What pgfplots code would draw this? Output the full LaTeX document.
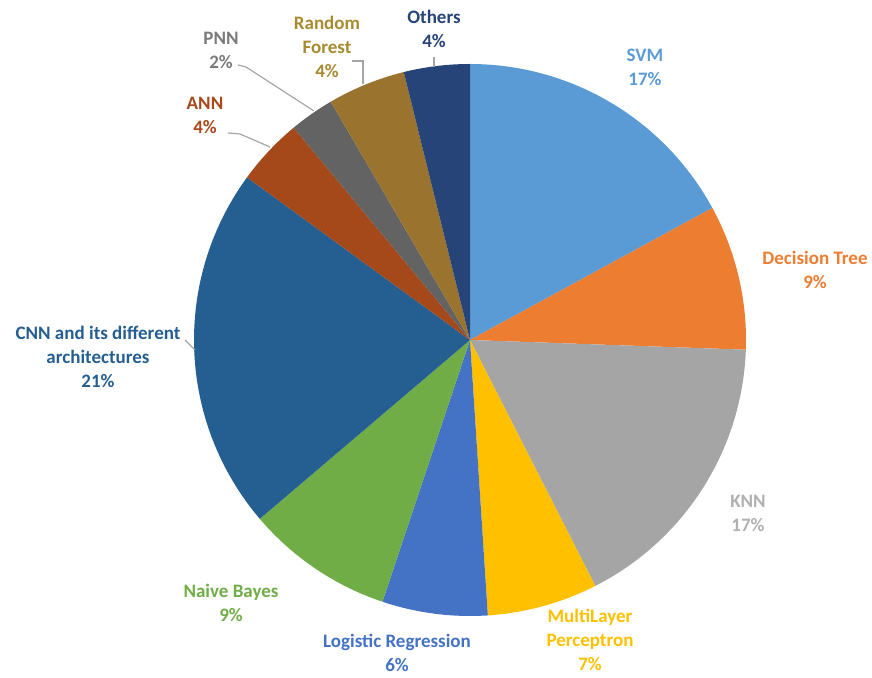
\documentclass[border=0pt]{standalone}
\usepackage{fontspec}
\setmainfont{Carlito}
\usepackage{pgfplots}
\pgfplotsset{compat=1.18}
\usepackage{pgfplotstable}

\definecolor{cSVM}{HTML}{5B9BD5}
\definecolor{cDT}{HTML}{ED7D31}
\definecolor{cKNN}{HTML}{A5A5A5}
\definecolor{cMLP}{HTML}{FFC000}
\definecolor{cLR}{HTML}{4472C4}
\definecolor{cNB}{HTML}{70AD47}
\definecolor{cCNN}{HTML}{255E91}
\definecolor{cANN}{HTML}{A5491A}
\definecolor{cPNN}{HTML}{636363}
\definecolor{cRF}{HTML}{9A742E}
\definecolor{cOTH}{HTML}{264478}
\definecolor{tRF}{HTML}{A88A30}
\definecolor{tKNN}{HTML}{B0B0B0}
\definecolor{tPNN}{HTML}{7A7A7A}
\definecolor{leader}{HTML}{A6A6A6}

% share of each method, clockwise from 12 o'clock
\pgfplotstableread{
name share col
SVM 17.06 cSVM
DecisionTree 8.50 cDT
KNN 16.94 cKNN
MLP 6.47 cMLP
LogReg 6.17 cLR
NaiveBayes 8.64 cNB
CNN 21.25 cCNN
ANN 3.94 cANN
PNN 2.61 cPNN
RandomForest 4.56 cRF
Others 3.86 cOTH
}\piedata

\tikzset{lbl/.style={font=\fontsize{19}{24}\selectfont\bfseries, align=center, inner sep=0pt}}

\begin{document}
\begin{tikzpicture}
\begin{axis}[
    x=1pt, y=1pt,
    xmin=0, xmax=872, ymin=0, ymax=677,
    hide axis, clip=false,
    anchor=origin, at={(0,0)},
  ]
  \addplot[draw=none] coordinates {(0,0) (872,677)};

  \pgfplotstablegetrowsof{\piedata}
  \pgfmathtruncatemacro\nrows{\pgfplotsretval-1}
  \def\cum{0}
  \pgfplotsforeachungrouped \i in {0,...,\nrows}{
    \pgfplotstablegetelem{\i}{share}\of\piedata \let\v\pgfplotsretval
    \pgfplotstablegetelem{\i}{col}\of\piedata \let\c\pgfplotsretval
    \pgfmathsetmacro\aone{90-3.6*\cum}
    \pgfmathsetmacro\atwo{\aone-3.6*\v}
    \edef\temp{\noexpand\fill[\c] (axis cs:470,337) -- ++(\aone:276pt)
      arc[start angle=\aone, end angle=\atwo, radius=276pt] -- cycle;}
    \temp
    \pgfmathsetmacro\cum{\cum+\v}
  }

  % leader lines
  \draw[leader, line width=1.2pt] (axis cs:185,337) -- (axis cs:195,327);
  \draw[leader, line width=1.2pt] (axis cs:228,544) -- (axis cs:240,543) -- (axis cs:270,530);
  \draw[leader, line width=1.2pt] (axis cs:238,612) -- (axis cs:246,610) -- (axis cs:314,566);
  \draw[leader, line width=1.2pt] (axis cs:352,616) -- (axis cs:363,616) -- (axis cs:363,593);
  \draw[leader, line width=1.2pt] (axis cs:434,620) -- (axis cs:434,610);

  % labels
  \node[lbl, text=cSVM] at (axis cs:645,610) {SVM\\17\%};
  \node[lbl, text=cDT]  at (axis cs:815,407) {Decision Tree\\9\%};
  \node[lbl, text=tKNN] at (axis cs:748,164) {KNN\\17\%};
  \node[lbl, text=cMLP] at (axis cs:590,37) {MultiLayer\\Perceptron\\7\%};
  \node[lbl, text=cLR]  at (axis cs:397,24) {Logistic Regression\\6\%};
  \node[lbl, text=cNB]  at (axis cs:231,74) {Naive Bayes\\9\%};
  \node[lbl, text=cCNN] at (axis cs:98,320) {CNN and its different\\architectures\\21\%};
  \node[lbl, text=cANN] at (axis cs:205,562) {ANN\\4\%};
  \node[lbl, text=tPNN] at (axis cs:221,627) {PNN\\2\%};
  \node[lbl, text=tRF]  at (axis cs:327,630) {Random\\Forest\\4\%};
  \node[lbl, text=cOTH] at (axis cs:434,648) {Others\\4\%};
\end{axis}
\end{tikzpicture}
\end{document}
